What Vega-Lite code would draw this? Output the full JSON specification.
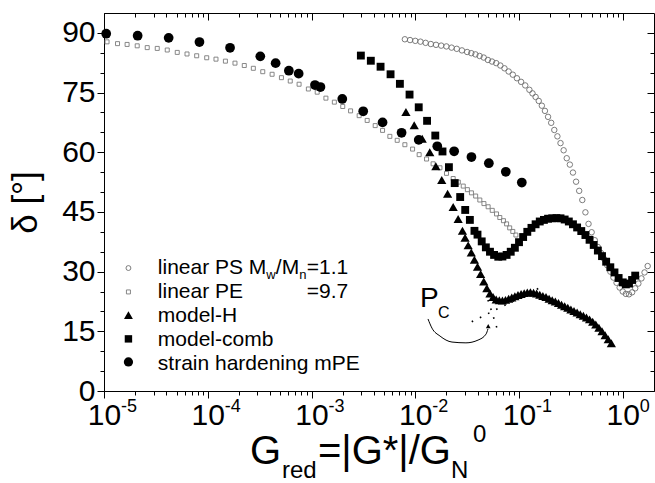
{
  "$schema": "https://vega.github.io/schema/vega-lite/v6.json",
  "width": 550,
  "height": 378,
  "autosize": {"type": "none"},
  "padding": {"left": 104, "top": 13, "right": 1, "bottom": 92},
  "background": "white",
  "config": {
    "view": {"stroke": "black", "strokeWidth": 1},
    "font": "Liberation Sans",
    "axis": {"tickColor": "black", "domainColor": "black", "grid": false, "labelColor": "black", "titleColor": "black", "labelFont": "Liberation Sans", "titleFont": "Liberation Sans", "tickWidth": 1, "domainWidth": 1}
  },
  "datasets": {
    "pe": [
      {"x": 1.07e-5, "y": 87.75}, {"x": 1.35e-5, "y": 87.3}, {"x": 1.67e-5, "y": 87.1}, {"x": 2.09e-5, "y": 86.75}, {"x": 2.61e-5, "y": 86.3},
      {"x": 3.26e-5, "y": 86.1}, {"x": 4.07e-5, "y": 85.7}, {"x": 5.08e-5, "y": 85.1}, {"x": 6.31e-5, "y": 84.7}, {"x": 7.82e-5, "y": 84.25},
      {"x": 9.77e-5, "y": 83.75}, {"x": 1.2e-4, "y": 83.4}, {"x": 1.48e-4, "y": 82.9}, {"x": 1.83e-4, "y": 82.4}, {"x": 2.25e-4, "y": 81.8},
      {"x": 2.75e-4, "y": 81.1}, {"x": 3.39e-4, "y": 80.25}, {"x": 4.17e-4, "y": 79.6}, {"x": 5.13e-4, "y": 78.75}, {"x": 6.24e-4, "y": 77.9},
      {"x": 7.59e-4, "y": 77.1}, {"x": 9.33e-4, "y": 75.9}, {"x": 1.135e-3, "y": 75.1}, {"x": 1.377e-3, "y": 73.6}, {"x": 1.66e-3, "y": 72.6},
      {"x": 2.0e-3, "y": 71.5}, {"x": 2.38e-3, "y": 70.4}, {"x": 2.88e-3, "y": 69.2}, {"x": 3.44e-3, "y": 68.0}, {"x": 4.11e-3, "y": 66.7},
      {"x": 4.84e-3, "y": 65.5}, {"x": 5.69e-3, "y": 64.0}, {"x": 6.7e-3, "y": 63.0}, {"x": 7.94e-3, "y": 61.9}, {"x": 9.42e-3, "y": 60.8},
      {"x": 1.09e-2, "y": 59.4}, {"x": 1.285e-2, "y": 58.3}, {"x": 1.486e-2, "y": 57.1}, {"x": 1.73e-2, "y": 56.1}, {"x": 2.0e-2, "y": 54.7},
      {"x": 2.32e-2, "y": 53.4}, {"x": 2.6e-2, "y": 52.5}, {"x": 2.9e-2, "y": 51.5}, {"x": 3.18e-2, "y": 50.6}, {"x": 3.48e-2, "y": 49.8},
      {"x": 3.82e-2, "y": 49.0}, {"x": 4.19e-2, "y": 48.0}, {"x": 4.59e-2, "y": 47.1}, {"x": 5.04e-2, "y": 46.3}, {"x": 5.52e-2, "y": 45.4},
      {"x": 6.07e-2, "y": 44.5}, {"x": 6.53e-2, "y": 43.6}, {"x": 7.08e-2, "y": 42.8}, {"x": 7.59e-2, "y": 42.0}, {"x": 8.13e-2, "y": 41.0},
      {"x": 8.71e-2, "y": 40.1}, {"x": 9.33e-2, "y": 39.2}
    ],
    "ps": [
      {"x": 7.94e-3, "y": 88.4}, {"x": 8.91e-3, "y": 88.2}, {"x": 1.0e-2, "y": 88.0}, {"x": 1.122e-2, "y": 87.8}, {"x": 1.259e-2, "y": 87.5},
      {"x": 1.413e-2, "y": 87.2}, {"x": 1.585e-2, "y": 87.0}, {"x": 1.778e-2, "y": 86.8}, {"x": 1.995e-2, "y": 86.6}, {"x": 2.239e-2, "y": 86.3},
      {"x": 2.512e-2, "y": 86.0}, {"x": 2.818e-2, "y": 85.6}, {"x": 3.162e-2, "y": 85.2}, {"x": 3.467e-2, "y": 84.9}, {"x": 3.802e-2, "y": 84.6},
      {"x": 4.169e-2, "y": 84.2}, {"x": 4.571e-2, "y": 83.8}, {"x": 5.012e-2, "y": 83.2}, {"x": 5.495e-2, "y": 82.8}, {"x": 6.026e-2, "y": 82.4},
      {"x": 6.607e-2, "y": 81.8}, {"x": 7.244e-2, "y": 81.1}, {"x": 7.943e-2, "y": 80.3}, {"x": 8.71e-2, "y": 79.5}, {"x": 9.55e-2, "y": 78.6},
      {"x": 0.1047, "y": 77.7}, {"x": 0.1148, "y": 76.8}, {"x": 0.1259, "y": 75.7}, {"x": 0.1349, "y": 74.8}, {"x": 0.1445, "y": 73.9},
      {"x": 0.1549, "y": 72.9}, {"x": 0.166, "y": 71.7}, {"x": 0.1778, "y": 70.4}, {"x": 0.1905, "y": 68.9}, {"x": 0.2042, "y": 67.4},
      {"x": 0.2188, "y": 65.6}, {"x": 0.2344, "y": 64.0}, {"x": 0.2512, "y": 62.3}, {"x": 0.2692, "y": 60.5}, {"x": 0.2884, "y": 58.5},
      {"x": 0.309, "y": 56.9}, {"x": 0.3311, "y": 54.9}, {"x": 0.3548, "y": 52.6}, {"x": 0.3802, "y": 50.3}, {"x": 0.4074, "y": 48.0},
      {"x": 0.4365, "y": 44.9}, {"x": 0.4677, "y": 42.0}, {"x": 0.5012, "y": 39.9}, {"x": 0.537, "y": 37.9}, {"x": 0.5754, "y": 36.2},
      {"x": 0.6166, "y": 34.7}, {"x": 0.6607, "y": 33.2}, {"x": 0.7079, "y": 31.6}, {"x": 0.7586, "y": 30.0}, {"x": 0.8128, "y": 28.5},
      {"x": 0.871, "y": 27.2}, {"x": 0.9333, "y": 26.0}, {"x": 1.0, "y": 25.0}, {"x": 1.0715, "y": 24.4}, {"x": 1.148, "y": 24.3},
      {"x": 1.23, "y": 24.8}, {"x": 1.318, "y": 25.8}, {"x": 1.413, "y": 27.0}, {"x": 1.514, "y": 28.3}, {"x": 1.622, "y": 29.8},
      {"x": 1.738, "y": 31.4}
    ],
    "mh": [
      {"x": 8.13e-3, "y": 70.1}, {"x": 9.77e-3, "y": 66.8}, {"x": 1.167e-2, "y": 63.4}, {"x": 1.38e-2, "y": 60.0}, {"x": 1.58e-2, "y": 56.5},
      {"x": 1.8e-2, "y": 53.0}, {"x": 2.05e-2, "y": 49.6}, {"x": 2.32e-2, "y": 46.25}, {"x": 2.59e-2, "y": 43.2}, {"x": 2.85e-2, "y": 40.25},
      {"x": 3.02e-2, "y": 38.5}, {"x": 3.236e-2, "y": 36.6}, {"x": 3.467e-2, "y": 34.8}, {"x": 3.715e-2, "y": 33.0}, {"x": 3.981e-2, "y": 31.2},
      {"x": 4.266e-2, "y": 29.4}, {"x": 4.571e-2, "y": 27.5}, {"x": 4.898e-2, "y": 25.8}, {"x": 5.248e-2, "y": 24.5}, {"x": 5.623e-2, "y": 23.6},
      {"x": 6.026e-2, "y": 23.0}, {"x": 6.457e-2, "y": 22.8}, {"x": 6.918e-2, "y": 22.75}, {"x": 7.413e-2, "y": 22.9}, {"x": 7.943e-2, "y": 23.2},
      {"x": 8.511e-2, "y": 23.5}, {"x": 9.12e-2, "y": 23.8}, {"x": 9.772e-2, "y": 24.1}, {"x": 0.1047, "y": 24.4}, {"x": 0.1122, "y": 24.6},
      {"x": 0.1202, "y": 24.75}, {"x": 0.1288, "y": 24.8}, {"x": 0.138, "y": 24.7}, {"x": 0.1479, "y": 24.5}, {"x": 0.1585, "y": 24.2},
      {"x": 0.1698, "y": 23.9}, {"x": 0.182, "y": 23.6}, {"x": 0.195, "y": 23.2}, {"x": 0.2089, "y": 22.8}, {"x": 0.2239, "y": 22.5},
      {"x": 0.2399, "y": 22.1}, {"x": 0.257, "y": 21.7}, {"x": 0.2754, "y": 21.3}, {"x": 0.2951, "y": 20.9}, {"x": 0.3162, "y": 20.5},
      {"x": 0.3388, "y": 20.1}, {"x": 0.3631, "y": 19.7}, {"x": 0.389, "y": 19.3}, {"x": 0.4169, "y": 18.9}, {"x": 0.4467, "y": 18.5},
      {"x": 0.4786, "y": 18.0}, {"x": 0.5129, "y": 17.4}, {"x": 0.5495, "y": 16.7}, {"x": 0.5888, "y": 15.9}, {"x": 0.631, "y": 15.0},
      {"x": 0.6761, "y": 14.0}, {"x": 0.7244, "y": 13.0}, {"x": 0.7762, "y": 12.0}
    ],
    "cb": [
      {"x": 2.99e-3, "y": 84.3}, {"x": 3.73e-3, "y": 83.0}, {"x": 4.63e-3, "y": 81.5}, {"x": 5.78e-3, "y": 79.6}, {"x": 7.11e-3, "y": 77.2},
      {"x": 8.81e-3, "y": 74.5}, {"x": 1.08e-2, "y": 71.3}, {"x": 1.3e-2, "y": 67.9}, {"x": 1.56e-2, "y": 64.2}, {"x": 1.83e-2, "y": 60.2},
      {"x": 2.11e-2, "y": 56.25}, {"x": 2.4e-2, "y": 52.25}, {"x": 2.71e-2, "y": 48.75}, {"x": 3.03e-2, "y": 45.5}, {"x": 3.36e-2, "y": 43.0},
      {"x": 3.72e-2, "y": 40.25}, {"x": 3.98e-2, "y": 39.3}, {"x": 4.37e-2, "y": 37.6}, {"x": 4.79e-2, "y": 36.1}, {"x": 5.25e-2, "y": 35.0},
      {"x": 5.75e-2, "y": 34.2}, {"x": 6.31e-2, "y": 33.75}, {"x": 6.92e-2, "y": 33.8}, {"x": 7.59e-2, "y": 34.2}, {"x": 8.32e-2, "y": 35.0},
      {"x": 9.12e-2, "y": 36.0}, {"x": 0.1, "y": 37.4}, {"x": 0.1096, "y": 38.7}, {"x": 0.1202, "y": 40.0}, {"x": 0.1318, "y": 41.0},
      {"x": 0.1445, "y": 41.9}, {"x": 0.1585, "y": 42.6}, {"x": 0.1738, "y": 43.0}, {"x": 0.1905, "y": 43.3}, {"x": 0.2089, "y": 43.4},
      {"x": 0.2291, "y": 43.45}, {"x": 0.2512, "y": 43.4}, {"x": 0.2754, "y": 43.1}, {"x": 0.302, "y": 42.6}, {"x": 0.3311, "y": 41.9},
      {"x": 0.3631, "y": 41.1}, {"x": 0.3981, "y": 40.2}, {"x": 0.4365, "y": 39.2}, {"x": 0.4786, "y": 38.0}, {"x": 0.5248, "y": 36.7},
      {"x": 0.5754, "y": 35.3}, {"x": 0.631, "y": 33.9}, {"x": 0.6918, "y": 32.5}, {"x": 0.7586, "y": 31.1}, {"x": 0.8318, "y": 29.8},
      {"x": 0.912, "y": 28.4}, {"x": 1.0, "y": 27.3}, {"x": 1.0715, "y": 26.8}, {"x": 1.148, "y": 27.0}, {"x": 1.23, "y": 27.9},
      {"x": 1.318, "y": 29.0}
    ],
    "sh": [
      {"x": 1.05e-5, "y": 89.8}, {"x": 2.11e-5, "y": 89.3}, {"x": 4.2e-5, "y": 88.75}, {"x": 8.32e-5, "y": 87.7}, {"x": 1.64e-4, "y": 86.25},
      {"x": 3.21e-4, "y": 84.1}, {"x": 4.51e-4, "y": 82.4}, {"x": 6.05e-4, "y": 80.5}, {"x": 7.52e-4, "y": 79.75}, {"x": 1.08e-3, "y": 76.9},
      {"x": 1.22e-3, "y": 76.4}, {"x": 1.98e-3, "y": 73.4}, {"x": 3.15e-3, "y": 70.3}, {"x": 4.84e-3, "y": 67.5}, {"x": 7.38e-3, "y": 64.9},
      {"x": 1.08e-2, "y": 63.1}, {"x": 1.63e-2, "y": 61.5}, {"x": 2.37e-2, "y": 60.25}, {"x": 3.48e-2, "y": 58.8}, {"x": 5.12e-2, "y": 57.25},
      {"x": 7.46e-2, "y": 55.1}, {"x": 0.1064, "y": 52.4}
    ],
    "arc": [
      {"x": 1.327e-2, "y": 18.1}, {"x": 1.449e-2, "y": 15.8}, {"x": 1.734e-2, "y": 13.8}, {"x": 2.26e-2, "y": 12.3},
      {"x": 3.08e-2, "y": 12.1}, {"x": 4.03e-2, "y": 12.8}, {"x": 4.81e-2, "y": 14.3}, {"x": 5.02e-2, "y": 15.6}
    ],
    "tangA": [{"x": 3.5e-2, "y": 17.4}, {"x": 0.1714, "y": 26.4}],
    "tangB": [{"x": 5.02e-2, "y": 22.9}, {"x": 6.31e-2, "y": 14.8}],
    "dec": [{"x": 1e-5, "e": "-5"}, {"x": 1e-4, "e": "-4"}, {"x": 1e-3, "e": "-3"}, {"x": 1e-2, "e": "-2"}, {"x": 0.1, "e": "-1"}, {"x": 1, "e": "0"}],
    "one": [{}]
  },
  "layer": [
    {
      "data": {"name": "pe"},
      "mark": {"type": "point", "shape": "square", "filled": false, "stroke": "#7a7a7a", "strokeWidth": 0.9, "size": 16, "opacity": 1},
      "encoding": {
        "x": {"field": "x", "type": "quantitative", "scale": {"type": "log", "domain": [1e-5, 2], "nice": false},
          "axis": {"orient": "bottom", "values": [1e-5, 1e-4, 1e-3, 1e-2, 1e-1, 1], "tickSize": 7, "labelFontSize": 30, "labelPadding": 2, "labelAlign": "center", "labelBaseline": "top", "labelFlush": false, "labelOverlap": false, "title": null, "labelExpr": "'10'"}},
        "y": {"field": "y", "type": "quantitative", "scale": {"domain": [0, 95], "nice": false, "zero": false},
          "axis": {"orient": "left", "values": [0, 15, 30, 45, 60, 75, 90], "tickSize": 7, "labelFontSize": 30, "labelPadding": 2, "labelFlush": false, "labelOverlap": false, "title": "δ [°]", "titleFontSize": 35, "titleFontWeight": "normal", "titlePadding": 18}}
      }
    },
    {
      "data": {"name": "ps"},
      "mark": {"type": "point", "shape": "circle", "filled": false, "stroke": "#6e6e6e", "strokeWidth": 0.9, "size": 30, "opacity": 1},
      "encoding": {
        "x": {"field": "x", "type": "quantitative", "scale": {"type": "log", "domain": [1e-5, 2], "nice": false},
          "axis": {"orient": "top", "values": [1e-5, 1e-4, 1e-3, 1e-2, 1e-1, 1], "tickSize": 7, "offset": -7, "labels": false, "domain": false, "title": null}},
        "y": {"field": "y", "type": "quantitative", "scale": {"domain": [0, 95], "nice": false, "zero": false},
          "axis": {"orient": "right", "values": [0, 15, 30, 45, 60, 75, 90], "tickSize": 7, "offset": -7, "labels": false, "domain": false, "title": null}}
      }
    },
    {
      "data": {"name": "mh"},
      "mark": {"type": "point", "shape": "triangle-up", "filled": true, "color": "black", "size": 85, "opacity": 1},
      "encoding": {
        "x": {"field": "x", "type": "quantitative", "scale": {"type": "log", "domain": [1e-5, 2], "nice": false},
          "axis": {"orient": "bottom", "values": [2e-5, 3e-5, 4e-5, 5e-5, 6e-5, 7e-5, 8e-5, 9e-5, 2e-4, 3e-4, 4e-4, 5e-4, 6e-4, 7e-4, 8e-4, 9e-4, 2e-3, 3e-3, 4e-3, 5e-3, 6e-3, 7e-3, 8e-3, 9e-3, 0.02, 0.03, 0.04, 0.05, 0.06, 0.07, 0.08, 0.09, 0.2, 0.3, 0.4, 0.5, 0.6, 0.7, 0.8, 0.9], "tickSize": 4, "labels": false, "domain": false, "title": null}},
        "y": {"field": "y", "type": "quantitative", "scale": {"domain": [0, 95], "nice": false, "zero": false},
          "axis": {"orient": "left", "values": [5, 10, 20, 25, 35, 40, 50, 55, 65, 70, 80, 85], "tickSize": 4, "labels": false, "domain": false, "title": null}}
      }
    },
    {
      "data": {"name": "cb"},
      "mark": {"type": "point", "shape": "square", "filled": true, "color": "black", "size": 62, "opacity": 1},
      "encoding": {
        "x": {"field": "x", "type": "quantitative", "scale": {"type": "log", "domain": [1e-5, 2], "nice": false},
          "axis": {"orient": "top", "values": [2e-5, 3e-5, 4e-5, 5e-5, 6e-5, 7e-5, 8e-5, 9e-5, 2e-4, 3e-4, 4e-4, 5e-4, 6e-4, 7e-4, 8e-4, 9e-4, 2e-3, 3e-3, 4e-3, 5e-3, 6e-3, 7e-3, 8e-3, 9e-3, 0.02, 0.03, 0.04, 0.05, 0.06, 0.07, 0.08, 0.09, 0.2, 0.3, 0.4, 0.5, 0.6, 0.7, 0.8, 0.9], "tickSize": 4, "offset": -4, "labels": false, "domain": false, "title": null}},
        "y": {"field": "y", "type": "quantitative", "scale": {"domain": [0, 95], "nice": false, "zero": false},
          "axis": {"orient": "right", "values": [5, 10, 20, 25, 35, 40, 50, 55, 65, 70, 80, 85], "tickSize": 4, "offset": -4, "labels": false, "domain": false, "title": null}}
      }
    },
    {
      "data": {"name": "sh"},
      "mark": {"type": "point", "shape": "circle", "filled": true, "color": "black", "size": 95, "opacity": 1},
      "encoding": {
        "x": {"field": "x", "type": "quantitative", "scale": {"type": "log", "domain": [1e-5, 2], "nice": false}, "axis": null},
        "y": {"field": "y", "type": "quantitative", "scale": {"domain": [0, 95], "nice": false, "zero": false}, "axis": null}
      }
    },
    {
      "data": {"name": "dec"},
      "mark": {"type": "text", "align": "left", "baseline": "alphabetic", "fontSize": 18, "dx": 17, "color": "black"},
      "encoding": {
        "x": {"field": "x", "type": "quantitative", "axis": null},
        "y": {"datum": -5.3, "type": "quantitative", "axis": null},
        "text": {"field": "e", "type": "nominal"}
      }
    },
    {
      "data": {"name": "arc"},
      "mark": {"type": "line", "interpolate": "monotone", "color": "black", "strokeWidth": 1},
      "encoding": {
        "x": {"field": "x", "type": "quantitative", "axis": null},
        "y": {"field": "y", "type": "quantitative", "axis": null}
      }
    },
    {
      "data": {"name": "tangA"},
      "mark": {"type": "line", "color": "black", "strokeWidth": 1.6, "strokeDash": [1.6, 7.5]},
      "encoding": {
        "x": {"field": "x", "type": "quantitative", "axis": null},
        "y": {"field": "y", "type": "quantitative", "axis": null}
      }
    },
    {
      "data": {"name": "tangB"},
      "mark": {"type": "line", "color": "black", "strokeWidth": 1.6, "strokeDash": [1.6, 7.5]},
      "encoding": {
        "x": {"field": "x", "type": "quantitative", "axis": null},
        "y": {"field": "y", "type": "quantitative", "axis": null}
      }
    },
    {
      "data": {"name": "one"},
      "mark": {"type": "point", "shape": "triangle-up", "filled": true, "color": "black", "size": 22, "opacity": 1},
      "encoding": {"x": {"datum": 0.0505, "type": "quantitative", "axis": null}, "y": {"datum": 16.3, "type": "quantitative", "axis": null}}
    },
    {
      "data": {"name": "one"},
      "mark": {"type": "text", "text": "P", "align": "left", "baseline": "alphabetic", "fontSize": 28, "color": "black"},
      "encoding": {"x": {"datum": 0.0111, "type": "quantitative", "axis": null}, "y": {"datum": 21.1, "type": "quantitative", "axis": null}}
    },
    {
      "data": {"name": "one"},
      "mark": {"type": "text", "text": "C", "align": "left", "baseline": "alphabetic", "fontSize": 16, "color": "black"},
      "encoding": {"x": {"datum": 0.01656, "type": "quantitative", "axis": null}, "y": {"datum": 18.35, "type": "quantitative", "axis": null}}
    },
    {
      "data": {"name": "one"},
      "mark": {"type": "point", "shape": "circle", "filled": false, "stroke": "#6e6e6e", "strokeWidth": 0.9, "size": 24, "opacity": 1},
      "encoding": {"x": {"datum": 1.72e-5, "type": "quantitative", "axis": null}, "y": {"datum": 30.9, "type": "quantitative", "axis": null}}
    },
    {
      "data": {"name": "one"},
      "mark": {"type": "point", "shape": "square", "filled": false, "stroke": "#7a7a7a", "strokeWidth": 0.9, "size": 16, "opacity": 1},
      "encoding": {"x": {"datum": 1.72e-5, "type": "quantitative", "axis": null}, "y": {"datum": 24.9, "type": "quantitative", "axis": null}}
    },
    {
      "data": {"name": "one"},
      "mark": {"type": "point", "shape": "triangle-up", "filled": true, "color": "black", "size": 80, "opacity": 1},
      "encoding": {"x": {"datum": 1.72e-5, "type": "quantitative", "axis": null}, "y": {"datum": 19.1, "type": "quantitative", "axis": null}}
    },
    {
      "data": {"name": "one"},
      "mark": {"type": "point", "shape": "square", "filled": true, "color": "black", "size": 55, "opacity": 1},
      "encoding": {"x": {"datum": 1.72e-5, "type": "quantitative", "axis": null}, "y": {"datum": 13.1, "type": "quantitative", "axis": null}}
    },
    {
      "data": {"name": "one"},
      "mark": {"type": "point", "shape": "circle", "filled": true, "color": "black", "size": 85, "opacity": 1},
      "encoding": {"x": {"datum": 1.72e-5, "type": "quantitative", "axis": null}, "y": {"datum": 7.3, "type": "quantitative", "axis": null}}
    },
    {
      "data": {"name": "one"},
      "mark": {"type": "text", "text": ["linear PS M", "linear PE", "model-H", "model-comb", "strain hardening mPE"], "lineHeight": 23.9, "align": "left", "baseline": "middle", "fontSize": 21, "color": "black"},
      "encoding": {"x": {"datum": 3.3e-5, "type": "quantitative", "axis": null}, "y": {"datum": 30.9, "type": "quantitative", "axis": null}}
    },
    {
      "data": {"name": "one"},
      "mark": {"type": "text", "text": "w", "align": "left", "baseline": "middle", "fontSize": 13, "dx": 108.5, "dy": 7, "color": "black"},
      "encoding": {"x": {"datum": 3.3e-5, "type": "quantitative", "axis": null}, "y": {"datum": 30.9, "type": "quantitative", "axis": null}}
    },
    {
      "data": {"name": "one"},
      "mark": {"type": "text", "text": "/M", "align": "left", "baseline": "middle", "fontSize": 21, "dx": 118, "color": "black"},
      "encoding": {"x": {"datum": 3.3e-5, "type": "quantitative", "axis": null}, "y": {"datum": 30.9, "type": "quantitative", "axis": null}}
    },
    {
      "data": {"name": "one"},
      "mark": {"type": "text", "text": "n", "align": "left", "baseline": "middle", "fontSize": 13, "dx": 141.5, "dy": 7, "color": "black"},
      "encoding": {"x": {"datum": 3.3e-5, "type": "quantitative", "axis": null}, "y": {"datum": 30.9, "type": "quantitative", "axis": null}}
    },
    {
      "data": {"name": "one"},
      "mark": {"type": "text", "text": "=1.1", "align": "left", "baseline": "middle", "fontSize": 21, "dx": 149, "color": "black"},
      "encoding": {"x": {"datum": 3.3e-5, "type": "quantitative", "axis": null}, "y": {"datum": 30.9, "type": "quantitative", "axis": null}}
    },
    {
      "data": {"name": "one"},
      "mark": {"type": "text", "text": "=9.7", "align": "left", "baseline": "middle", "fontSize": 21, "dx": 149, "color": "black"},
      "encoding": {"x": {"datum": 3.3e-5, "type": "quantitative", "axis": null}, "y": {"datum": 24.9, "type": "quantitative", "axis": null}}
    },
    {
      "data": {"name": "one"},
      "mark": {"type": "text", "text": "G", "align": "left", "baseline": "alphabetic", "fontSize": 40, "color": "black"},
      "encoding": {"x": {"datum": 2.55e-4, "type": "quantitative", "axis": null}, "y": {"datum": -18.4, "type": "quantitative", "axis": null}}
    },
    {
      "data": {"name": "one"},
      "mark": {"type": "text", "text": "red", "align": "left", "baseline": "alphabetic", "fontSize": 24, "dx": 32, "dy": 14, "color": "black"},
      "encoding": {"x": {"datum": 2.55e-4, "type": "quantitative", "axis": null}, "y": {"datum": -18.4, "type": "quantitative", "axis": null}}
    },
    {
      "data": {"name": "one"},
      "mark": {"type": "text", "text": "=|G*|/G", "align": "left", "baseline": "alphabetic", "fontSize": 40, "dx": 68, "color": "black"},
      "encoding": {"x": {"datum": 2.55e-4, "type": "quantitative", "axis": null}, "y": {"datum": -18.4, "type": "quantitative", "axis": null}}
    },
    {
      "data": {"name": "one"},
      "mark": {"type": "text", "text": "N", "align": "left", "baseline": "alphabetic", "fontSize": 24, "dx": 201, "dy": 14, "color": "black"},
      "encoding": {"x": {"datum": 2.55e-4, "type": "quantitative", "axis": null}, "y": {"datum": -18.4, "type": "quantitative", "axis": null}}
    },
    {
      "data": {"name": "one"},
      "mark": {"type": "text", "text": "0", "align": "left", "baseline": "alphabetic", "fontSize": 24, "dx": 223, "dy": -22, "color": "black"},
      "encoding": {"x": {"datum": 2.55e-4, "type": "quantitative", "axis": null}, "y": {"datum": -18.4, "type": "quantitative", "axis": null}}
    }
  ],
  "resolve": {"axis": {"x": "independent", "y": "independent"}}
}
